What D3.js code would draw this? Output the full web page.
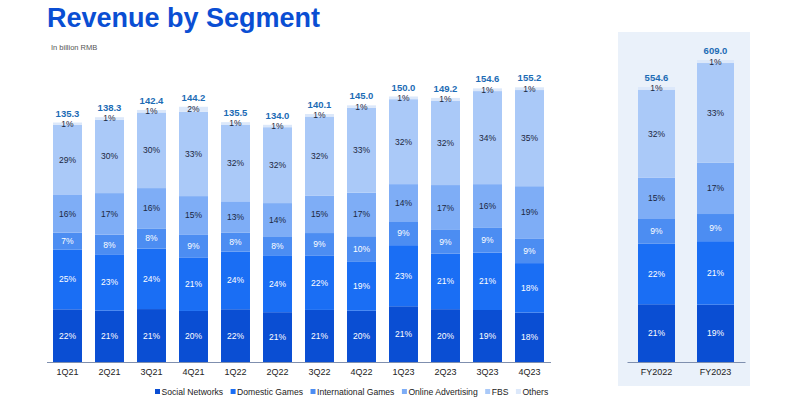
<!DOCTYPE html>
<html><head><meta charset="utf-8">
<script src="https://cdn.jsdelivr.net/npm/d3@7/dist/d3.min.js"></script>
<style>body{margin:0;background:#fff}svg{display:block;font-family:"Liberation Sans",Arial,sans-serif}</style>
</head><body><svg id="c" width="800" height="400"></svg>
<script>
const quarters = ['1Q21','2Q21','3Q21','4Q21','1Q22','2Q22','3Q22','4Q22','1Q23','2Q23','3Q23','4Q23'];
const quarterTotals = [135.3,138.3,142.4,144.2,135.5,134.0,140.1,145.0,150.0,149.2,154.6,155.2];
const qSocialNetworks = [22,21,21,20,22,21,21,20,21,20,19,18];
const qDomesticGames = [25,23,24,21,24,24,22,19,23,21,21,18];
const qInternationalGames = [7,8,8,9,8,8,9,10,9,9,9,9];
const qOnlineAdvertising = [16,17,16,15,13,14,15,17,14,17,16,19];
const qFBS = [29,30,30,33,32,32,32,33,32,32,34,35];
const qOthers = [1,1,1,2,1,1,1,1,1,1,1,1];

const years = ['FY2022','FY2023'];
const yearTotals = [554.6,609.0];
const ySocialNetworks = [21,19];
const yDomesticGames = [22,21];
const yInternationalGames = [9,9];
const yOnlineAdvertising = [15,17];
const yFBS = [32,33];
const yOthers = [1,1];

const segments = ['Social Networks','Domestic Games','International Games','Online Advertising','FBS','Others'];
const colors = ['#0a4ed3','#1a6ef4','#4c8df2','#7eadf6','#aac9f8','#dce8fa'];
const labelColors = ['#fff','#fff','#fff','#1b2740','#1b2740','#1b2740'];

const svg = d3.select('#c');

// panel background
svg.append('rect').attr('x',618).attr('y',32).attr('width',132).attr('height',354).attr('fill','#eaf1fa');

svg.append('text').attr('x',47).attr('y',27).attr('fill','#0a4ed3').attr('font-size',27).attr('font-weight','bold').text('Revenue by Segment');
svg.append('text').attr('x',51).attr('y',50).attr('fill','#555').attr('font-size',7.5).text('In billion RMB');

function drawPanel(cats, totals, pcts, xr, yScale, pad){
  const x = d3.scaleBand().domain(cats).range(xr).paddingInner(pad).paddingOuter(pad/2);
  const g = svg.append('g');
  cats.forEach((c,i)=>{
    const sum = d3.sum(pcts, p=>p[i]);
    let acc = 0;
    pcts.forEach((p,s)=>{
      const v = totals[i]*p[i]/sum;
      const y0 = yScale(acc), y1 = yScale(acc+v);
      g.append('rect').attr('x',x(c)).attr('y',y1).attr('width',x.bandwidth()).attr('height',y0-y1).attr('fill',colors[s]);
      g.append('text').attr('x',x(c)+x.bandwidth()/2).attr('y',(y0+y1)/2+3)
        .attr('text-anchor','middle').attr('font-size',8.5).attr('fill',labelColors[s]).text(p[i]+'%');
      acc += v;
    });
    g.append('text').attr('x',x(c)+x.bandwidth()/2).attr('y',yScale(totals[i])-6)
      .attr('text-anchor','middle').attr('font-size',9.5).attr('font-weight','bold').attr('fill','#1c6cb5').text(totals[i].toFixed(1));
  });
  const ax = g.append('g').attr('transform',`translate(0,${yScale(0)})`).call(d3.axisBottom(x).tickSize(0).tickPadding(7));
  ax.select('.domain').attr('stroke','#7f8fae').attr('stroke-width',1.2);
  ax.selectAll('text').attr('font-size',9).attr('fill','#222').attr('font-family','"Liberation Sans",Arial,sans-serif');
}

const yQ = d3.scaleLinear().domain([0,160]).range([362,362-1.77*160]);
drawPanel(quarters, quarterTotals, [qSocialNetworks,qDomesticGames,qInternationalGames,qOnlineAdvertising,qFBS,qOthers], [46.5,550.5], yQ, 0.31);
const yY = d3.scaleLinear().domain([0,609]).range([362,60]);
drawPanel(years, yearTotals, [ySocialNetworks,yDomesticGames,yInternationalGames,yOnlineAdvertising,yFBS,yOthers], [627,745], yY, 0.373);

// legend
const lg = svg.append('g');
let lx = 155;
segments.forEach((s,i)=>{
  lg.append('rect').attr('x',lx).attr('y',389).attr('width',5).attr('height',5).attr('fill',colors[i]);
  const t = lg.append('text').attr('x',lx+6.5).attr('y',394.5).attr('font-size',8.6).attr('fill','#222').text(s);
  lx += 6.5 + t.node().getComputedTextLength() + 7.5;
});
</script></body></html>
